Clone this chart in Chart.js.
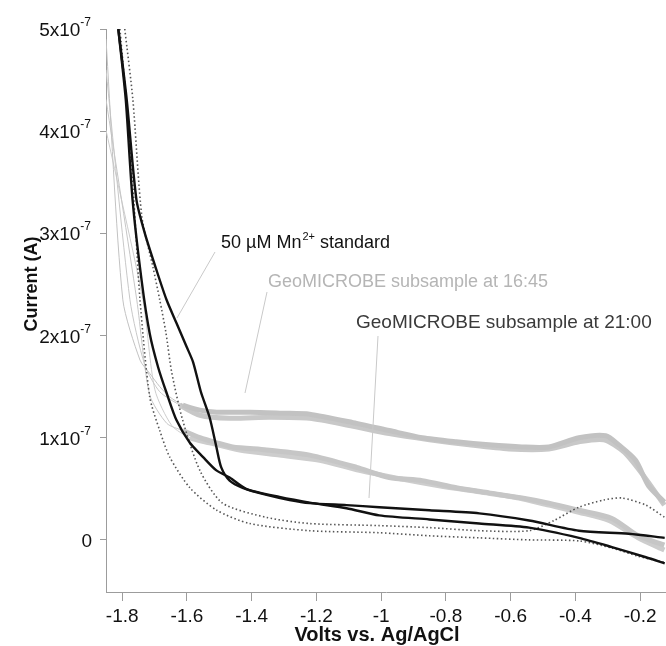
<!DOCTYPE html>
<html>
<head>
<meta charset="utf-8">
<title>Mn voltammograms</title>
<script src="https://cdn.jsdelivr.net/npm/chart.js@4.4.1/dist/chart.umd.min.js"></script>
<style>
  html, body { margin: 0; padding: 0; background: #fff; overflow: hidden; }
  #wrap { position: relative; width: 666px; height: 646px; }
</style>
</head>
<body>
<div id="wrap"><canvas id="voltChart"></canvas></div>
<script>
// potentials in V vs Ag/AgCl, currents in units of 1e-7 A

// 50 uM Mn2+ standard, two scans (black)
const stdA_V = [-1.812, -1.789, -1.768, -1.740, -1.715, -1.689, -1.663, -1.632, -1.591, -1.550, -1.509, -1.468, -1.417, -1.314, -1.212, -1.107, -1.006, -0.851, -0.697, -0.543, -0.389, -0.287, -0.182, -0.124];
const stdA_I = [5.00, 4.31, 3.33, 2.54, 2.02, 1.69, 1.44, 1.17, 0.95, 0.81, 0.68, 0.61, 0.50, 0.42, 0.36, 0.31, 0.24, 0.20, 0.16, 0.12, 0.02, -0.07, -0.17, -0.23];
const stdB_V = [-1.812, -1.786, -1.756, -1.730, -1.694, -1.663, -1.632, -1.601, -1.581, -1.557, -1.530, -1.509, -1.494, -1.468, -1.428, -1.354, -1.283, -1.221, -1.107, -1.006, -0.851, -0.697, -0.543, -0.389, -0.235, -0.124];
const stdB_I = [5.00, 4.31, 3.33, 3.00, 2.64, 2.35, 2.12, 1.89, 1.74, 1.45, 1.20, 0.91, 0.71, 0.58, 0.51, 0.44, 0.39, 0.36, 0.34, 0.32, 0.29, 0.26, 0.19, 0.09, 0.06, 0.02];

// GeoMICROBE subsample at 16:45 (light grey), four scans
const s1645a_V = [-1.850, -1.798, -1.745, -1.715, -1.684, -1.653, -1.613, -1.560, -1.508, -1.405, -1.305, -1.221, -1.076, -0.975, -0.873, -0.768, -0.667, -0.565, -0.482, -0.389, -0.306, -0.266, -0.214, -0.174, -0.125];
const s1645a_I = [4.90, 2.35, 1.76, 1.63, 1.50, 1.40, 1.32, 1.27, 1.25, 1.25, 1.24, 1.23, 1.14, 1.07, 1.00, 0.96, 0.93, 0.91, 0.91, 1.00, 1.02, 0.93, 0.78, 0.53, 0.37];
const s1645b_V = [-1.850, -1.776, -1.730, -1.684, -1.622, -1.560, -1.468, -1.345, -1.221, -1.098, -0.975, -0.851, -0.728, -0.605, -0.482, -0.389, -0.312, -0.250, -0.190, -0.125];
const s1645b_I = [4.60, 2.35, 1.71, 1.45, 1.32, 1.22, 1.19, 1.20, 1.19, 1.12, 1.04, 0.98, 0.93, 0.89, 0.89, 0.96, 0.98, 0.86, 0.63, 0.34];
const s1645c_V = [-1.850, -1.755, -1.715, -1.662, -1.613, -1.560, -1.508, -1.459, -1.354, -1.221, -1.076, -0.975, -0.873, -0.768, -0.667, -0.565, -0.482, -0.389, -0.287, -0.206, -0.125];
const s1645c_I = [4.31, 2.35, 1.42, 1.14, 1.07, 1.00, 0.95, 0.91, 0.88, 0.83, 0.71, 0.61, 0.58, 0.51, 0.46, 0.41, 0.36, 0.29, 0.21, 0.04, -0.05];
const s1645d_V = [-1.850, -1.736, -1.699, -1.647, -1.591, -1.530, -1.437, -1.314, -1.190, -1.067, -0.944, -0.821, -0.697, -0.574, -0.482, -0.389, -0.296, -0.206, -0.125];
const s1645d_I = [4.01, 2.35, 1.47, 1.12, 1.00, 0.95, 0.88, 0.83, 0.78, 0.68, 0.60, 0.53, 0.47, 0.41, 0.34, 0.27, 0.19, 0.02, -0.10];

// GeoMICROBE subsample at 21:00 (dotted dark grey), two scans
const s2100a_V = [-1.792, -1.767, -1.739, -1.705, -1.684, -1.665, -1.647, -1.613, -1.560, -1.490, -1.354, -1.221, -1.006, -0.851, -0.697, -0.543, -0.466, -0.389, -0.312, -0.256, -0.182, -0.124];
const s2100a_I = [5.00, 4.31, 3.16, 2.67, 2.35, 2.03, 1.64, 1.17, 0.68, 0.36, 0.22, 0.16, 0.14, 0.12, 0.09, 0.09, 0.19, 0.32, 0.39, 0.41, 0.34, 0.22];
const s2100b_V = [-1.807, -1.782, -1.764, -1.745, -1.715, -1.684, -1.653, -1.591, -1.508, -1.406, -1.221, -1.006, -0.851, -0.697, -0.543, -0.389, -0.287, -0.206, -0.125];
const s2100b_I = [5.00, 4.11, 3.33, 2.35, 1.40, 1.07, 0.81, 0.51, 0.29, 0.16, 0.09, 0.07, 0.04, 0.02, 0.00, -0.01, -0.08, -0.16, -0.22];

// axis ticks
const xTicks = [-1.8, -1.6, -1.4, -1.2, -1, -0.8, -0.6, -0.4, -0.2];
const yTicks = [0, 1, 2, 3, 4, 5];
const yExponent = "-7";

const FONT = '"Liberation Sans", Arial, Helvetica, sans-serif';
const AXIS_GREY = "#9c9c9c";

function toPoints(vs, is) {
    return vs.map((v, i) => ({ x: v, y: is[i] }));
}

// grey scans are a noisy band on the plateau, thin on the steep rise
function greyWidth(ctx) {
    return ctx.p0.parsed.x < -1.64 ? 1 : 5;
}

function greyLine(vs, is, color) {
    return {
        data: toPoints(vs, is),
        borderColor: color,
        borderWidth: 1,
        segment: { borderWidth: greyWidth },
        order: 3,
    };
}

function dottedLine(vs, is) {
    return {
        data: toPoints(vs, is),
        borderColor: "#555555",
        borderWidth: 1.6,
        borderDash: [1.5, 2.5],
        order: 2,
    };
}

function blackLine(vs, is) {
    return {
        data: toPoints(vs, is),
        borderColor: "#111111",
        borderWidth: 2.4,
        order: 1,
    };
}

// leader lines and labels drawn on top
const figureText = {
    id: "figureText",
    afterDraw(chart) {
        const ctx = chart.ctx;
        const xs = chart.scales.x;
        const ys = chart.scales.y;
        ctx.save();

        // y tick labels, n x 10^-7
        ctx.fillStyle = "#111";
        ctx.textAlign = "right";
        ys.ticks.forEach((t) => {
            const y = ys.getPixelForValue(t.value);
            if (t.value === 0) {
                ctx.font = "19px " + FONT;
                ctx.fillText("0", 92, y + 7);
                return;
            }
            ctx.font = "12px " + FONT;
            ctx.fillText(yExponent, 91, y - 3);
            const w = ctx.measureText(yExponent).width;
            ctx.font = "19px " + FONT;
            ctx.fillText(t.value + "x10", 91 - w, y + 7);
        });

        // x tick labels
        ctx.textAlign = "center";
        ctx.font = "19px " + FONT;
        xs.ticks.forEach((t) => {
            ctx.fillText(String(t.value), xs.getPixelForValue(t.value), 622);
        });

        // axis titles
        ctx.font = "bold 20px " + FONT;
        ctx.fillText("Volts vs. Ag/AgCl", 377, 641);
        ctx.save();
        ctx.translate(37, 284);
        ctx.rotate(-Math.PI / 2);
        ctx.font = "bold 18px " + FONT;
        ctx.fillText("Current (A)", 0, 0);
        ctx.restore();

        // leader lines
        ctx.strokeStyle = "#c9c9c9";
        ctx.lineWidth = 1;
        [[215, 252, 177, 318], [267, 292, 245, 393], [378, 336, 369, 498]].forEach((l) => {
            ctx.beginPath();
            ctx.moveTo(l[0], l[1]);
            ctx.lineTo(l[2], l[3]);
            ctx.stroke();
        });

        // annotations
        ctx.textAlign = "left";
        ctx.fillStyle = "#111";
        ctx.font = "18px " + FONT;
        let x = 221;
        ctx.fillText("50 \u00b5M Mn", x, 248);
        x += ctx.measureText("50 \u00b5M Mn").width + 1;
        ctx.font = "11px " + FONT;
        ctx.fillText("2+", x, 240);
        x += ctx.measureText("2+").width;
        ctx.font = "18px " + FONT;
        ctx.fillText(" standard", x, 248);

        ctx.fillStyle = "#b5b5b5";
        ctx.fillText("GeoMICROBE subsample at 16:45", 268, 287);
        ctx.fillStyle = "#3a3a3a";
        ctx.font = "19px " + FONT;
        ctx.fillText("GeoMICROBE subsample at 21:00", 356, 328);

        ctx.restore();
    },
};

const ctx = document.getElementById("voltChart").getContext("2d");

const voltChart = new Chart(ctx, {
    type: "line",
    data: {
        datasets: [
            blackLine(stdA_V, stdA_I),
            blackLine(stdB_V, stdB_I),
            dottedLine(s2100a_V, s2100a_I),
            dottedLine(s2100b_V, s2100b_I),
            greyLine(s1645a_V, s1645a_I, "#c2c2c2"),
            greyLine(s1645b_V, s1645b_I, "#c8c8c8"),
            greyLine(s1645c_V, s1645c_I, "#c6c6c6"),
            greyLine(s1645d_V, s1645d_I, "#cdcdcd"),
        ],
    },
    options: {
        responsive: true,
        maintainAspectRatio: false,
        animation: false,
        layout: { padding: { top: 29, right: 0, bottom: 0, left: 0 } },
        plugins: {
            legend: { display: false },
            tooltip: { enabled: false },
        },
        elements: {
            point: { radius: 0, hoverRadius: 0 },
            line: { tension: 0.25, fill: false, borderJoinStyle: "round" },
        },
        scales: {
            x: {
                type: "linear",
                min: -1.85,
                max: -0.12,
                afterBuildTicks: (scale) => {
                    scale.ticks = xTicks.map((v) => ({ value: v }));
                },
                afterFit: (scale) => {
                    scale.height = 54;
                },
                ticks: { display: false },
                grid: {
                    drawOnChartArea: false,
                    drawTicks: true,
                    tickLength: 9,
                    color: AXIS_GREY,
                },
                border: { color: AXIS_GREY, width: 1 },
            },
            y: {
                min: -0.51,
                max: 5,
                afterBuildTicks: (scale) => {
                    scale.ticks = yTicks.map((v) => ({ value: v }));
                },
                afterFit: (scale) => {
                    scale.width = 106;
                },
                ticks: { display: false },
                grid: {
                    drawOnChartArea: false,
                    drawTicks: true,
                    tickLength: 6,
                    color: AXIS_GREY,
                },
                border: { color: AXIS_GREY, width: 1 },
            },
        },
    },
    plugins: [figureText],
});
</script>
</body>
</html>
